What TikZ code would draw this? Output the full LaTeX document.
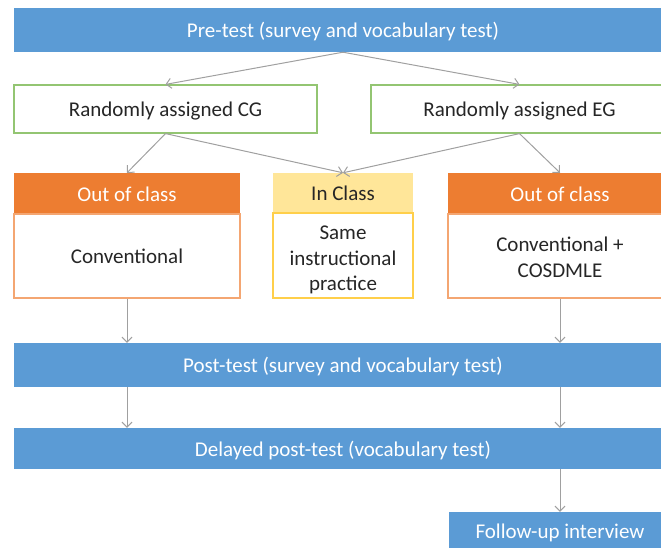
\documentclass[tikz,border=0pt]{standalone}
\usepackage{fontspec}
\setmainfont{Carlito}
\usetikzlibrary{arrows.meta}
\definecolor{barblue}{HTML}{5B9BD5}
\definecolor{hdorange}{HTML}{ED7D31}
\definecolor{bdorange}{HTML}{F4A672}
\definecolor{hdyellow}{HTML}{FFE699}
\definecolor{bdyellow}{HTML}{FFCF4A}
\definecolor{bdgreen}{HTML}{93C572}
\definecolor{arrgray}{HTML}{A0A0A0}
\definecolor{txtdark}{HTML}{262626}
\begin{document}
\begin{tikzpicture}[x=1pt,y=-1pt,
  base/.style={inner sep=0pt, align=center, font=\fontsize{21}{25.5}\selectfont},
  oneline/.style={text height=16pt, text depth=1pt},
  bluebar/.style={base, oneline, fill=barblue, text=white},
  greenbox/.style={base, oneline, draw=bdgreen, line width=1.2pt, fill=white, text=txtdark},
  orangehead/.style={base, oneline, fill=hdorange, text=white},
  orangebody/.style={base, draw=bdorange, line width=1.2pt, fill=white, text=txtdark},
  yellowhead/.style={base, oneline, fill=hdyellow, text=txtdark},
  yellowbody/.style={base, draw=bdyellow, line width=1.2pt, fill=white, text=txtdark},
  conn/.style={draw=arrgray, line width=1pt, -{Straight Barb[length=5pt,width=10pt]}}
]
\useasboundingbox (0,0) rectangle (661,548);
\clip (0,0) rectangle (661,548);

% Pre-test bar
\node[bluebar, minimum width=658pt, minimum height=44pt] (pre) at (343,30) {Pre-test (survey and vocabulary test)};

% Randomly assigned boxes
\node[greenbox, minimum width=303pt, minimum height=48pt] (cg) at (165.5,109) {Randomly assigned CG};
\node[greenbox, minimum width=297pt, minimum height=48pt] (eg) at (519.5,109) {Randomly assigned EG};

% Left column
\node[orangehead, minimum width=226pt, minimum height=41pt] (lh) at (127,193.5) {Out of class};
\node[orangebody, oneline, minimum width=226pt, minimum height=84pt] (lb) at (127,256) {Conventional};

% Middle column
\node[yellowhead, minimum width=140pt, minimum height=40pt] (ih) at (343,193) {In Class};
\node[yellowbody, minimum width=140pt, minimum height=85pt] (ib) at (343,255.5) {\rule{0pt}{23pt}Same\\instructional\\practice};

% Right column
\node[orangehead, minimum width=224pt, minimum height=41pt] (rh) at (560,193.5) {Out of class};
\node[orangebody, minimum width=224pt, minimum height=84pt] (rb) at (560,256) {\rule{0pt}{17pt}Conventional +\\COSDMLE};

% Post-test, delayed, follow-up
\node[bluebar, minimum width=658pt, minimum height=44pt] (post) at (343,365) {Post-test (survey and vocabulary test)};
\node[bluebar, minimum width=658pt, minimum height=41pt] (del) at (343,448.5) {Delayed post-test (vocabulary test)};
\node[bluebar, minimum width=222pt, minimum height=38pt] (fol) at (560,531) {Follow-up interview};

% Connectors
\draw[conn] (pre.south) -- (cg.north);
\draw[conn] (pre.south) -- (eg.north);
\draw[conn] (cg.south) -- (lh.north);
\draw[conn] (cg.south) -- (ih.north);
\draw[conn] (eg.south) -- (ih.north);
\draw[conn] (eg.south) -- (rh.north);
\draw[conn] (lb.south) -- (lb.south |- post.north);
\draw[conn] (rb.south) -- (rb.south |- post.north);
\draw[conn] (lb.south |- post.south) -- (lb.south |- del.north);
\draw[conn] (rb.south |- post.south) -- (rb.south |- del.north);
\draw[conn] (rb.south |- del.south) -- (fol.north);
\end{tikzpicture}
\end{document}
